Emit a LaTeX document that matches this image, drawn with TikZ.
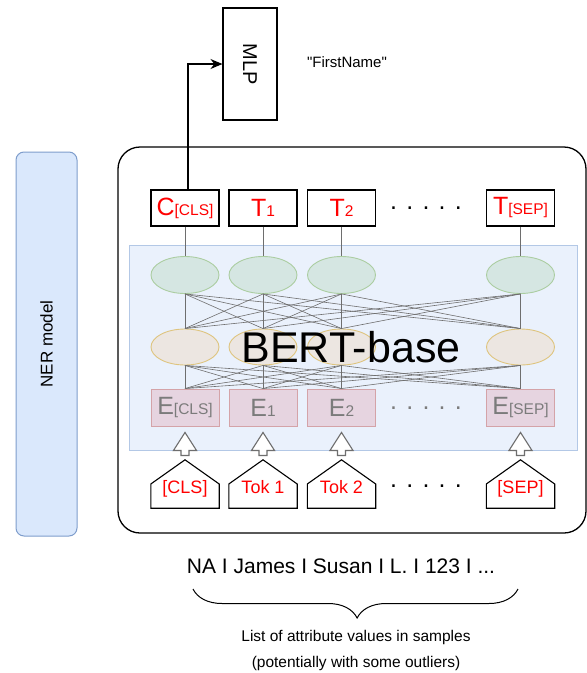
\documentclass[tikz,border=0pt]{standalone}
\usepackage{fontspec}
\setmainfont{Liberation Sans}
\newfontfamily\rawfont{Liberation Sans}
\usepackage{xcolor}
\usepackage{tikz}
\usetikzlibrary{arrows.meta, positioning, shapes.geometric, decorations.pathreplacing, calc}
\definecolor{tokred}{HTML}{FF0000}
\definecolor{bertfill}{HTML}{EAF1FC}
\definecolor{bertdraw}{HTML}{B3C8E6}
\definecolor{nerfill}{HTML}{DAE8FC}
\definecolor{nerdraw}{HTML}{7E9DCC}
\definecolor{upfill}{HTML}{D5E6E2}
\definecolor{updraw}{HTML}{ABCDA1}
\definecolor{lowfill}{HTML}{ECE6E1}
\definecolor{lowdraw}{HTML}{DEC47E}
\definecolor{embfill}{HTML}{E6D4E0}
\definecolor{embdraw}{HTML}{D4A3A8}
\definecolor{embtext}{HTML}{7B7B7B}
\definecolor{wiregray}{HTML}{6E6E6E}
\newcommand{\fsize}[1]{\fontsize{#1}{#1}\selectfont}
\newcommand{\tsub}[1]{{\fsize{15.5}#1}}

\begin{document}
\begin{tikzpicture}[x=1pt, y=-1pt,
    outbox/.style={rectangle, draw=black, line width=1.3pt, fill=white,
                   minimum width=68, minimum height=36, inner sep=0,
                   text=tokred, font=\fsize{25}},
    upnode/.style={ellipse, draw=updraw, fill=upfill, line width=0.9pt,
                   minimum width=68, minimum height=37, inner sep=0},
    lownode/.style={ellipse, draw=lowdraw, fill=lowfill, line width=0.9pt,
                    minimum width=68, minimum height=36, inner sep=0},
    embbox/.style={rectangle, draw=embdraw, fill=embfill, line width=0.9pt,
                   minimum width=68, minimum height=37, inner sep=0,
                   text=embtext, font=\fsize{25}},
    tokbox/.style={rectangle, minimum width=68, minimum height=48, inner sep=0,
                   text height=18pt, text depth=0pt, text=tokred, font=\fsize{18}},
    house/.style={draw=black, line width=1.1pt},
    wire/.style={draw=wiregray, line width=0.6pt},
    hollow/.style={draw=wiregray, line width=1.1pt, fill=white},
    action/.style={-{Stealth[length=12pt, width=10pt]}, line width=1.2pt},
    ellip/.style={font=\fsize{25}, anchor=base},
    caption/.style={font=\fsize{15.5}}
  ]
    \useasboundingbox (0,0) rectangle (587,673);

    % Frames
    \node[draw=nerdraw, fill=nerfill, line width=1pt, rounded corners=8pt,
          minimum width=61, minimum height=384, inner sep=0, font=\fsize{17}]
      (ner) at (46.5,344) {\rotatebox{90}{NER model}};
    \node[draw=black, fill=white, line width=1.3pt, rounded corners=22pt,
          minimum width=468, minimum height=386, inner sep=0] (model) at (352,340) {};
    \node[draw=bertdraw, fill=bertfill, line width=1pt,
          minimum width=448, minimum height=205, inner sep=0] (bert) at (353,347.5) {};

    % MLP head
    \node[draw=black, line width=1.1pt, minimum width=54, minimum height=112,
          inner sep=0, font=\fsize{20}] (mlp) at (250,64) {\rotatebox{-90}{MLP}};
    \node[font=\rawfont\fsize{15}] (label) at (347,62) {"FirstName"};

    % Output tokens
    \node[outbox] (tout1) at (185,208) {C\tsub{[CLS]}};
    \node[outbox] (tout2) at (263,208) {T\tsub{1}};
    \node[outbox] (tout3) at (341.5,208) {T\tsub{2}};
    \node[outbox] (tout4) at (520.5,208) {T\tsub{[SEP]}};
    \node[ellip] (toutdots) at (426,209) {. . . . .};

    % Hidden units
    \node[upnode] (up1) at (185,275) {};
    \node[upnode] (up2) at (263,275) {};
    \node[upnode] (up3) at (341.5,275) {};
    \node[upnode] (up4) at (520.5,275) {};
    \node[lownode] (low1) at (185,347) {};
    \node[lownode] (low2) at (263,347) {};
    \node[lownode] (low3) at (341.5,347) {};
    \node[lownode] (low4) at (520.5,347) {};

    % Embeddings
    \node[embbox] (emb1) at (185,407.5) {E\tsub{[CLS]}};
    \node[embbox] (emb2) at (263,407.5) {E\tsub{1}};
    \node[embbox] (emb3) at (341.5,407.5) {E\tsub{2}};
    \node[embbox] (emb4) at (520.5,407.5) {E\tsub{[SEP]}};
    \node[ellip, text=embtext] (embdots) at (426,409) {. . . . .};

    % Input tokens
    \node[tokbox] (tok1) at (185,484) {[CLS]};
    \node[tokbox] (tok2) at (263,484) {Tok 1};
    \node[tokbox] (tok3) at (341.5,484) {Tok 2};
    \node[tokbox] (tok4) at (520.5,484) {[SEP]};
    \node[ellip] (tokdots) at (426,487) {. . . . .};
    \foreach \n in {tok1,tok2,tok3,tok4}
      \draw[house] (\n.south west) -- (\n.south east) -- (\n.east) -- (\n.north)
        -- (\n.west) -- cycle;

    % Connections
    \foreach \i in {1,...,4} {
      \draw[wire] (tout\i.south) -- (up\i.north);
      \foreach \j in {1,...,4} {
        \draw[wire] (up\i.south) -- (low\j.north);
        \draw[wire] (low\i.south) -- (emb\j.north);
      }
    }
    \foreach \n in {emb1,emb2,emb3,emb4}
      \draw[hollow] ([yshift=-6pt]\n.south) -- ++(11.5,18) -- ++(-7.5,0) -- ++(0,5)
        -- ++(-8,0) -- ++(0,-5) -- ++(-7.5,0) -- cycle;
    \draw[action] ([xshift=3pt]tout1.north) |- (mlp.west);

    \node[font=\fsize{43}] (berttitle) at (351,347) {BERT-base};

    % Input values
    \node[font=\fsize{21}] (values) at (341,566) {NA I James I Susan I L. I 123 I ...};
    \draw[decorate, decoration={brace, mirror, amplitude=29pt, aspect=0.505},
          line width=1pt] (193,589) -- (518,589);
    \node[caption] (caption1) at (356,637) {List of attribute values in samples};
    \node[caption] (caption2) at (356,663) {(potentially with some outliers)};
  \end{tikzpicture}
\end{document}
